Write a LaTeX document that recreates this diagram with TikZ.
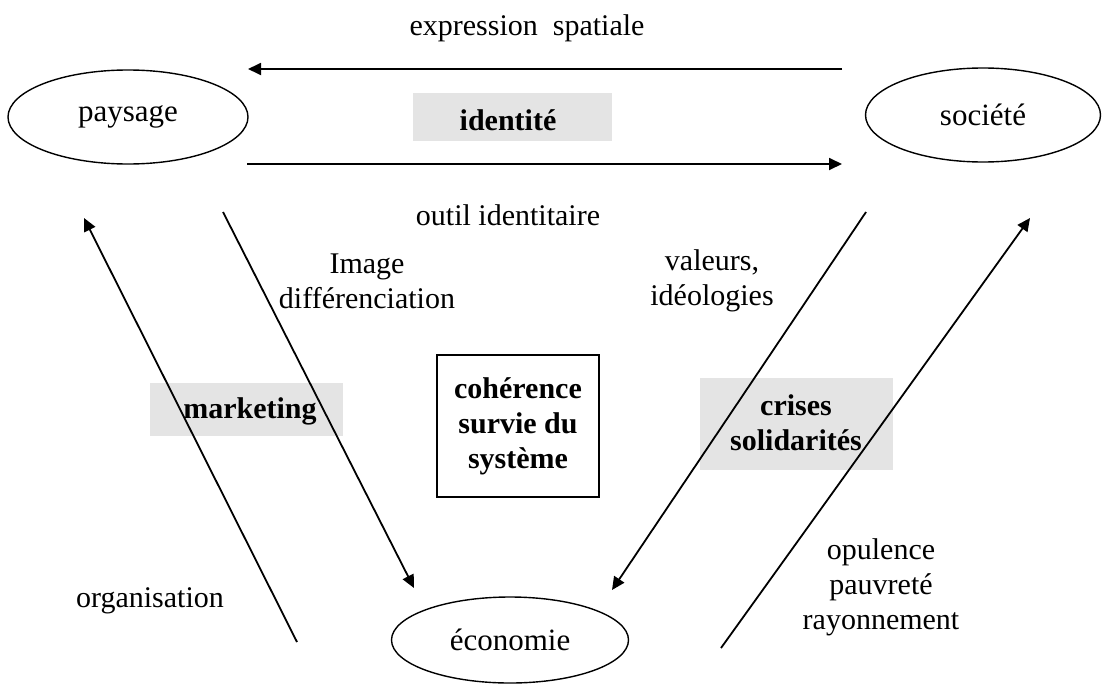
\documentclass[tikz,border=0pt]{standalone}
\usepackage{fontspec}
\setmainfont{Liberation Serif}
\usetikzlibrary{shapes.geometric,arrows.meta}
\definecolor{boxgrey}{HTML}{E4E4E4}
\tikzset{
  txt/.style={font=\fontsize{15}{17}\selectfont, align=center, inner sep=0pt},
  bold/.style={font=\fontsize{15}{17}\selectfont\bfseries, align=center, inner sep=0pt},
  pole/.style={draw, ellipse, line width=0.7pt, inner sep=0pt, font=\fontsize{15.5}{17}\selectfont},
  greybox/.style={fill=boxgrey, draw=none},
  link/.style={line width=0.9pt, -{Triangle[length=6.5pt,width=6pt]}}
}
\begin{document}
\begin{tikzpicture}[x=0.5pt,y=-0.5pt]
\useasboundingbox (0,0) rectangle (1102,685);
% shaded label boxes
\path[greybox] (413,93) rectangle (612,141);
\path[greybox] (150,383) rectangle (343,436);
\path[greybox] (700,378) rectangle (893,470);
% poles
\node[pole, minimum width=120pt, minimum height=47pt] (paysage) at (128,117) {paysage};
\node[pole, minimum width=117.5pt, minimum height=47pt] (societe) at (983,115) {société};
\node[pole, minimum width=118.5pt, minimum height=43pt] (economie) at (510,640) {économie};
% centre
\node[draw, line width=0.8pt, minimum width=81pt, minimum height=71pt, bold] (centre) at (518,426) {cohérence\\[0.5pt]survie du\\[0.5pt]système};
% labels
\node[txt] (expr) at (527,28) {expression\ \ spatiale};
\node[bold] (ident) at (508,120) {identité};
\node[txt] (outil) at (508,215) {outil identitaire};
\node[txt] (image) at (367,281) {Image\\[0.5pt]différenciation};
\node[txt] (valeurs) at (712,281) {valeurs,\\[0.5pt]idéologies};
\node[bold] (mkt) at (250,411) {marketing};
\node[bold] (crises) at (796,423) {crises\\[0.5pt]solidarités};
\node[txt] (orga) at (150,601) {organisation};
\node[txt] (opul) at (881,587) {opulence\\[0.5pt]pauvreté\\[0.5pt]rayonnement};
% connector end points
\coordinate (a1s) at (842,69);  \coordinate (a1e) at (248,69);
\coordinate (a2s) at (247,164); \coordinate (a2e) at (842,164);
\coordinate (a3s) at (223,212); \coordinate (a3e) at (414,588);
\coordinate (a4s) at (297,642); \coordinate (a4e) at (84,218);
\coordinate (a5s) at (866,212); \coordinate (a5e) at (612,590);
\coordinate (a6s) at (721,648); \coordinate (a6e) at (1030,218);
\draw[link] (a1s) -- (a1e);
\draw[link] (a2s) -- (a2e);
\draw[link] (a3s) -- (a3e);
\draw[link] (a4s) -- (a4e);
\draw[link] (a5s) -- (a5e);
\draw[link] (a6s) -- (a6e);
\end{tikzpicture}
\end{document}
